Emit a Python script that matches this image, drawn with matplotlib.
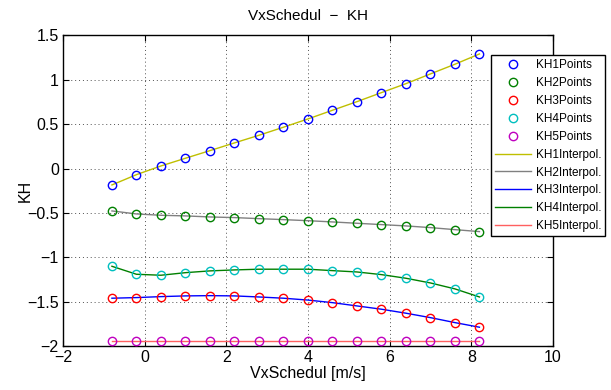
import numpy as np
import matplotlib
matplotlib.use("Agg")
from matplotlib import pyplot as plt

plt.rcParams['font.family'] = ['Liberation Sans', 'DejaVu Sans']

# Исходные данные
vx = [-0.8, -0.2, 0.4, 1.0, 1.6, 2.2, 2.8, 3.4, 4.0, 4.6, 5.2, 5.8, 6.4, 7.0, 7.6, 8.2]
kh1 = [-0.185, -0.069, 0.029, 0.116, 0.202, 0.289, 0.375, 0.466,
       0.559, 0.657, 0.754, 0.856, 0.957, 1.067, 1.176, 1.292]
kh2 = [-0.478, -0.512, -0.527, -0.534, -0.546, -0.553, -0.565, -0.576,
       -0.588, -0.602, -0.617, -0.632, -0.647, -0.666, -0.689, -0.711]
kh3 = [-1.462, -1.455, -1.444, -1.436, -1.433, -1.436, -1.448, -1.462,
       -1.483, -1.512, -1.549, -1.586, -1.631, -1.681, -1.737, -1.789]
kh4 = [-1.102, -1.192, -1.203, -1.174, -1.154, -1.143, -1.135, -1.135,
       -1.135, -1.151, -1.166, -1.196, -1.237, -1.290, -1.357, -1.448]
kh5 = [-1.94] * 16

series = [kh1, kh2, kh3, kh4, kh5]
point_colors = ['#0000ff', '#008000', '#ff0000', '#00bfbf', '#bf00bf']
line_colors = ['#bfbf00', '#808080', '#0000ff', '#008000', '#ff6060']

fig = plt.figure(figsize=(6.11, 3.90), dpi=100)
ax = fig.add_axes([0.103, 0.113, 0.802, 0.796])

for i, (kh, c) in enumerate(zip(series, point_colors)):
    ax.plot(vx, kh, 'o', mfc='none', mec=c, ms=6, mew=1.0,
            label='KH%dPoints' % (i + 1), zorder=3)
for i, (kh, c) in enumerate(zip(series, line_colors)):
    ax.plot(vx, kh, '-', color=c, lw=1.0,
            label='KH%dInterpol.' % (i + 1), zorder=2)

ax.set_xlim(-2, 10)
ax.set_ylim(-2, 1.5)
ax.set_xticks(np.arange(-2, 11, 2))
ax.set_yticks(np.arange(-2, 1.6, 0.5))
ax.set_yticklabels(['\u22122', '\u22121.5', '\u22121', '\u22120.5', '0', '0.5', '1', '1.5'])
ax.grid(True, linestyle=(0, (1, 3)), color='#505050', linewidth=0.7)
ax.tick_params(direction='in', labelsize=11.5, length=4, top=True, right=True, pad=3)
for s in ax.spines.values():
    s.set_linewidth(1.0)

ax.set_title('VxSchedul  \u2212  KH', fontsize=11, pad=11)
ax.set_xlabel('VxSchedul [m/s]', fontsize=11.5, labelpad=1)
ax.set_ylabel('KH', fontsize=11.5)
ax.yaxis.set_label_coords(-0.062, 0.5)

leg = ax.legend(loc='upper left', bbox_to_anchor=(491 / 611, 1 - 55 / 390),
                bbox_transform=fig.transFigure, fontsize=8.5, fancybox=False,
                edgecolor='black', framealpha=1, handlelength=3.0,
                labelspacing=0.5, borderpad=0.35, handletextpad=0.45,
                borderaxespad=0)
leg.get_frame().set_linewidth(1.0)

fig.savefig('out.png', dpi=100)
